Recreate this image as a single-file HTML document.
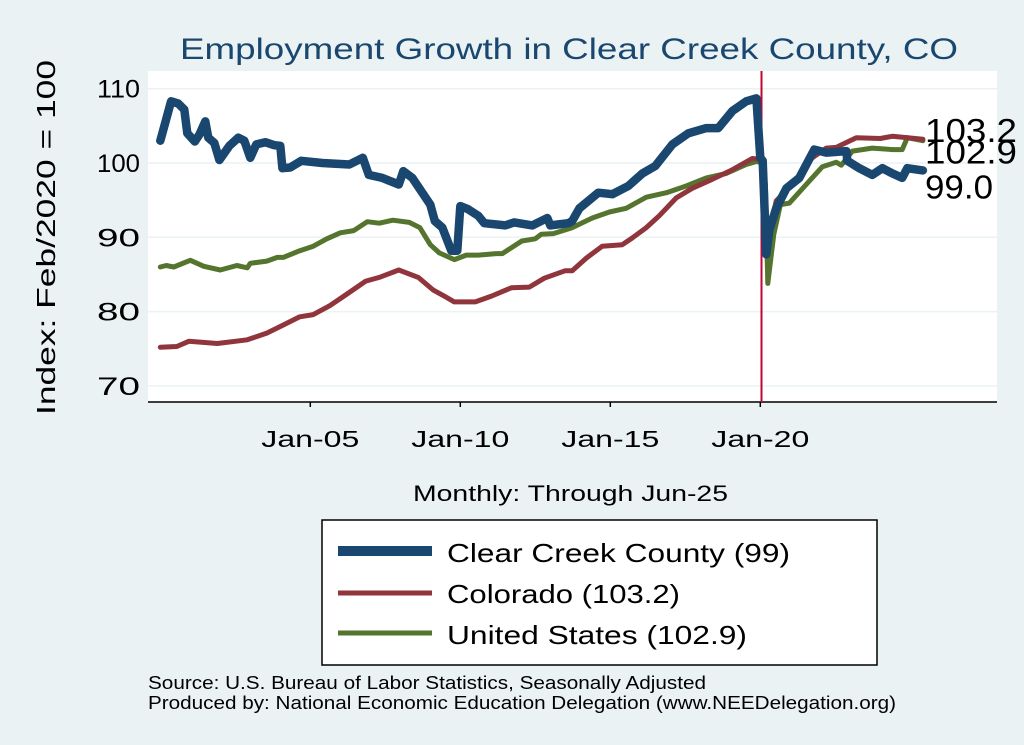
<!DOCTYPE html>
<html><head><meta charset="utf-8"><style>
body{margin:0;background:#eaf2f3;}
svg{display:block;font-family:"Liberation Sans",sans-serif;}
</style></head><body>
<svg id="chart" width="1024" height="745">
<rect x="0" y="0" width="1024" height="745" fill="#eaf2f3"/>
<rect x="148" y="71" width="849" height="331" fill="#ffffff"/>
<text x="180" y="59" font-size="30" fill="#1a476f" textLength="778" lengthAdjust="spacingAndGlyphs">Employment Growth in Clear Creek  County, CO</text>
<text transform="translate(55,415) rotate(-90)" font-size="26" fill="#000" textLength="355" lengthAdjust="spacingAndGlyphs">Index: Feb/2020 = 100</text>
<text x="413" y="501" font-size="22" fill="#000" textLength="315" lengthAdjust="spacingAndGlyphs">Monthly: Through Jun-25</text>
<g id="grid"></g><g id="yt"></g><g id="xt"></g>
<line x1="148" y1="402" x2="997" y2="402" stroke="#000" stroke-width="1.5"/>
<g id="series"></g>
<g id="endlabels"></g>
<rect x="322" y="520" width="555" height="145" fill="#fff" stroke="#000" stroke-width="1.5"/>
<line x1="338" y1="551" x2="432" y2="551" stroke="#1a476f" stroke-width="10"/>
<text x="447" y="562" font-size="26" textLength="343" lengthAdjust="spacingAndGlyphs">Clear Creek  County (99)</text>
<line x1="338" y1="593" x2="432" y2="593" stroke="#90353b" stroke-width="5"/>
<text x="447" y="603" font-size="26" textLength="233" lengthAdjust="spacingAndGlyphs">Colorado (103.2)</text>
<line x1="338" y1="633" x2="432" y2="633" stroke="#55752f" stroke-width="5"/>
<text x="447" y="644" font-size="26" textLength="300" lengthAdjust="spacingAndGlyphs">United States (102.9)</text>
<text x="148" y="689" font-size="18" textLength="558" lengthAdjust="spacingAndGlyphs">Source: U.S. Bureau of Labor Statistics, Seasonally Adjusted</text>
<text x="148" y="709" font-size="18" textLength="748" lengthAdjust="spacingAndGlyphs">Produced by: National Economic Education Delegation (www.NEEDelegation.org)</text>
</svg>
<script>
const yTicks=[70,80,90,100,110];
const xTickYears=[2005,2010,2015,2020];
const xTickLabels=["Jan-05","Jan-10","Jan-15","Jan-20"];
const ccT=[2000.0,2000.15,2000.36,2000.6,2000.8,2000.9,2001.15,2001.3,2001.5,2001.6,2001.8,2001.97,2002.3,2002.6,2002.8,2003.0,2003.2,2003.5,2003.8,2004.0,2004.07,2004.33,2004.7,2005.4,2006.3,2006.75,2006.95,2007.4,2007.95,2008.1,2008.4,2008.7,2009.0,2009.15,2009.4,2009.7,2009.9,2010.0,2010.25,2010.6,2010.8,2011.5,2011.8,2012.4,2012.9,2013.0,2013.6,2013.73,2013.97,2014.6,2015.07,2015.6,2016.07,2016.5,2017.07,2017.6,2018.2,2018.6,2019.07,2019.53,2019.87,2020.0,2020.08,2020.2,2020.3,2020.53,2020.87,2021.3,2021.8,2022.2,2022.87,2022.9,2023.3,2023.73,2024.07,2024.4,2024.73,2024.9,2025.42];
const ccV=[103.0,105.2,108.3,108.0,107.2,104.0,102.9,103.8,105.6,103.4,102.7,100.4,102.3,103.4,103.0,100.7,102.5,102.8,102.4,102.3,99.3,99.4,100.3,100.0,99.8,100.7,98.4,98.0,97.1,98.9,98.0,96.2,94.4,92.2,91.3,88.2,88.2,94.2,93.8,92.9,91.9,91.6,92.0,91.6,92.6,91.6,91.9,92.2,93.9,96.0,95.8,96.9,98.6,99.6,102.5,104.0,104.7,104.7,107.0,108.3,108.7,100.7,100.3,87.7,91.0,93.9,96.6,98.0,101.8,101.4,101.6,100.3,99.3,98.4,99.3,98.6,98.0,99.3,99.0];
const coT=[2000.0,2000.55,2000.95,2001.9,2002.9,2003.55,2004.1,2004.65,2005.1,2005.65,2006.2,2006.85,2007.3,2007.95,2008.6,2009.1,2009.5,2009.8,2010.5,2011.05,2011.7,2012.3,2012.8,2013.5,2013.73,2014.2,2014.73,2015.4,2015.73,2016.2,2016.63,2017.2,2017.73,2018.4,2019.07,2019.73,2020.0,2020.13,2020.25,2020.53,2021.07,2021.73,2022.2,2022.53,2023.2,2024.0,2024.4,2025.42];
const coV=[75.2,75.3,76.0,75.7,76.2,77.1,78.2,79.3,79.6,80.8,82.3,84.1,84.6,85.6,84.6,82.9,82.0,81.3,81.3,82.1,83.2,83.3,84.5,85.5,85.5,87.2,88.8,89.0,89.9,91.3,92.9,95.3,96.6,97.8,99.1,100.6,100.5,98.0,89.5,94.9,97.1,100.7,102.0,102.1,103.4,103.3,103.6,103.2];
const usT=[2000.0,2000.2,2000.45,2001.0,2001.45,2002.0,2002.55,2002.9,2003.0,2003.55,2003.9,2004.1,2004.65,2005.1,2005.55,2006.0,2006.45,2006.9,2007.3,2007.75,2008.3,2008.65,2009.0,2009.3,2009.8,2010.2,2010.6,2011.2,2011.4,2012.05,2012.5,2012.7,2013.1,2013.5,2013.73,2014.4,2014.97,2015.53,2016.2,2016.87,2017.53,2018.2,2018.87,2019.53,2019.87,2020.08,2020.17,2020.25,2020.45,2020.67,2020.97,2021.53,2022.07,2022.53,2022.7,2023.07,2023.73,2024.4,2024.73,2024.9,2025.42];
const usV=[86.0,86.2,86.0,86.9,86.1,85.6,86.2,85.9,86.5,86.8,87.3,87.3,88.2,88.8,89.8,90.6,90.9,92.1,91.9,92.3,92.0,91.3,89.0,87.9,87.0,87.6,87.6,87.8,87.8,89.5,89.8,90.4,90.5,91.0,91.3,92.6,93.4,93.9,95.4,96.0,96.9,98.0,98.6,99.8,100.2,100.0,97.1,83.8,90.4,94.4,94.6,97.1,99.5,100.1,99.7,101.6,102.0,101.8,101.8,103.4,103.0];
const endLabels=["103.2","102.9","99.0"];
const endLabelY=[103.2,102.9,99.0];

const NS="http://www.w3.org/2000/svg";
const X=t=>160.3+(t-2000)*30;
const Y=v=>163-(v-100)*7.43;
function mk(tag,attrs,parent){const e=document.createElementNS(NS,tag);for(const k in attrs)e.setAttribute(k,attrs[k]);parent.appendChild(e);return e;}
const grid=document.getElementById('grid'),yt=document.getElementById('yt'),xt=document.getElementById('xt');
yTicks.forEach(v=>{
 const l=mk('line',{x1:148,x2:997,y1:Y(v),y2:Y(v),stroke:'#eaf2f3','stroke-width':1.5},grid);
 
 
 const t=mk('text',{x:140,y:Y(v)+9,'text-anchor':'end','font-size':25,textLength:43,lengthAdjust:'spacingAndGlyphs'},yt);
 t.textContent=v;
 
 
});
xTickYears.forEach((yr,i)=>{
 const l=mk('line',{x1:X(yr),x2:X(yr),y1:402,y2:407,stroke:'#000','stroke-width':1.5},xt);
 
 
 const t=mk('text',{x:X(yr)-49,y:447,'font-size':23,textLength:98,lengthAdjust:'spacingAndGlyphs'},xt);
 t.textContent=xTickLabels[i];
 
 
});
const sg=document.getElementById('series');
const vl=mk('line',{x1:X(2020.04),x2:X(2020.04),y1:71,y2:402,stroke:'#c10534','stroke-width':2},sg);


function line(ts,vs,color,w,name){
 const d=ts.map((t,i)=>(i?'L':'M')+X(t).toFixed(1)+','+Y(vs[i]).toFixed(1)).join('');
 const p=mk('path',{d:d,fill:'none',stroke:color,'stroke-width':w,'stroke-linejoin':'round','stroke-linecap':'round'},sg);
 
 
}
line(usT,usV,'#55752f',5,'series-united-states');
line(coT,coV,'#90353b',5,'series-colorado');
line(ccT,ccV,'#1a476f',8.5,'series-clear-creek');
const el=document.getElementById('endlabels');
const offs=[-7,12,18];
const lens=[92,92,68];
endLabels.forEach((s,i)=>{
 const t=mk('text',{x:925,y:Y(endLabelY[i])+offs[i]+10,'font-size':33,textLength:lens[i],lengthAdjust:'spacingAndGlyphs'},el);
 t.textContent=s;
 
 
});
</script>
</body></html>
